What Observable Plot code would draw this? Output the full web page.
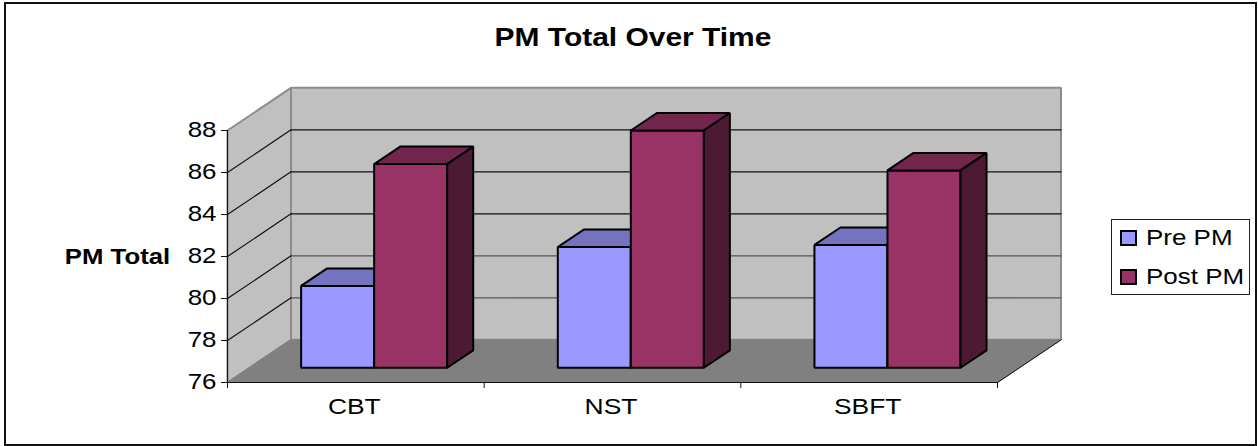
<!DOCTYPE html>
<html>
<head>
<meta charset="utf-8">
<script src="https://cdn.jsdelivr.net/npm/d3@7"></script>
<script src="https://cdn.jsdelivr.net/npm/@observablehq/plot@0.6"></script>
<style>
  html, body { margin: 0; padding: 0; background: #fff; }
  #chart { position: relative; width: 1258px; height: 446px; overflow: hidden; }
  #chart svg { display: block; background: transparent; position: relative; }
  #edge { position: absolute; left: 4px; top: 2px; width: 1249px; height: 440px; border: 2px solid #111; pointer-events: none; }
  text { font-family: "Liberation Sans", Arial, sans-serif; }
</style>
</head>
<body>
<div id="chart"><div id="edge"></div></div>
<script>
// Survey results: PM total before and after each treatment.
const treatments = ["CBT", "NST", "SBFT"];
const prePM = [79.9, 81.75, 81.85];
const postPM = [85.7, 87.3, 85.4];
const seriesNames = ["Pre PM", "Post PM"];
const yTicks = [76, 78, 80, 82, 84, 86, 88];

// Oblique projection: depth z runs 0..1 from the front plane to the back wall.
const depthX = 0.2474;  // category widths per unit of depth
const depthY = 2.03;    // PM units per unit of depth
const project = ([x, v, z]) => ({x: x + z * depthX, y: v + z * depthY});

const yMin = 76, yMax = 88, xMax = treatments.length;
const walls = [];
const bars = [];
function face(target, id, fill, stroke, strokeWidth, corners) {
  for (const c of corners) target.push({id, fill, stroke, strokeWidth, ...project(c)});
}

// Walls and floor
face(walls, "back", "#c0c0c0", "#8c8c8c", 2, [[0, yMin, 1], [xMax, yMin, 1], [xMax, yMax, 1], [0, yMax, 1]]);
face(walls, "side", "#c0c0c0", "#8c8c8c", 2, [[0, yMin, 0], [0, yMin, 1], [0, yMax, 1], [0, yMax, 0]]);
face(walls, "floor", "#808080", "#808080", 1, [[0, yMin, 0], [xMax, yMin, 0], [xMax, yMin, 1], [0, yMin, 1]]);

// Gridlines wrap from the side wall around the back wall
const grid = [];
for (const t of yTicks.slice(1, -1)) {
  const back = t === 78 || t === 80 ? "#555" : "#111";
  grid.push({id: t, stroke: back, ...project([0, t, 1])}, {id: t, stroke: back, ...project([xMax, t, 1])});
  grid.push({id: "s" + t, stroke: "#111", ...project([0, t, 0])}, {id: "s" + t, stroke: "#111", ...project([0, t, 1])});
}

// Bars stand part way into the depth of the floor
const zFront = 0.345, zBack = 0.755;
const barWidth = 0.2845, barGap = 0.2015;
const palette = [
  {front: "#9999ff", top: "#7373bf", side: "#4d4d80"},
  {front: "#993366", top: "#73264d", side: "#4d1a33"}
];
treatments.forEach((name, i) => {
  [prePM[i], postPM[i]].forEach((v, s) => {
    const x0 = i + barGap + s * barWidth, x1 = x0 + barWidth;
    const colors = palette[s], id = `${name}-${s}`;
    face(bars, id + "-front", colors.front, "#000", 2, [[x0, yMin, zFront], [x1, yMin, zFront], [x1, v, zFront], [x0, v, zFront]]);
    face(bars, id + "-top", colors.top, "#000", 2, [[x0, v, zFront], [x1, v, zFront], [x1, v, zBack], [x0, v, zBack]]);
    face(bars, id + "-side", colors.side, "#000", 2, [[x1, yMin, zFront], [x1, yMin, zBack], [x1, v, zBack], [x1, v, zFront]]);
  });
});

// Outline of the floor's open front-right corner
const floorEdge = [[xMax, yMin, 0], [xMax, yMin, 1]].map(project);

const faces = (rows) => Plot.line(rows, {
  x: "x", y: "y", z: "id",
  fill: "fill", stroke: "stroke", strokeWidth: "strokeWidth",
  curve: "linear-closed", strokeLinejoin: "miter"
});

const chart = Plot.plot({
  width: 1258,
  height: 446,
  marginLeft: 227,
  marginRight: 261,
  marginTop: 130,
  marginBottom: 64,
  style: {background: "transparent", overflow: "visible"},
  x: {domain: [0, xMax], label: null},
  y: {domain: [yMin, yMax], label: null},
  color: {type: "identity"},
  marks: [
    faces(walls),
    Plot.line(grid, {x: "x", y: "y", z: "id", stroke: "stroke", strokeWidth: 1.2}),
    faces(bars),
    Plot.line(floorEdge, {x: "x", y: "y", stroke: "#111", strokeWidth: 1}),
    Plot.ruleX([0], {stroke: "#111", strokeWidth: 1}),
    Plot.axisY({
      ticks: yTicks, tickSize: 6, tickPadding: 5, fontSize: 21.6, label: null,
      stroke: "#111", color: "#000", anchor: "left"
    }),
    Plot.axisX({
      ticks: [0, 1, 2, 3], tickSize: 6, tickFormat: () => "", label: null,
      stroke: "#111", anchor: "bottom"
    }),
    Plot.ruleY([yMin], {stroke: "#111", strokeWidth: 1}),
    Plot.text(treatments, {
      x: (d, i) => i + 0.5, y: yMin, text: (d) => d,
      dy: 24, dx: -1.5, fontSize: 22, fill: "#000"
    }),
    Plot.text(["PM Total Over Time"], {
      frameAnchor: "top", dy: -103, dx: 20.5, fontSize: 25.6, fontWeight: "bold", fill: "#000"
    }),
    Plot.text(["PM Total"], {
      frameAnchor: "left", dx: -110, dy: 0, fontSize: 22, fontWeight: "bold", fill: "#000", textAnchor: "middle"
    })
  ]
});
document.getElementById("chart").append(chart);

// The chart's lettering is set wide: widen every label by about the same factor.
chart.querySelectorAll("text").forEach((t) => {
  if (!t.textContent) return;
  const widen = t.getAttribute("font-weight") === "bold" || t.parentNode.getAttribute("font-weight") === "bold" ? 1.17 : 1.2;
  t.setAttribute("lengthAdjust", "spacingAndGlyphs");
  t.setAttribute("textLength", t.getComputedTextLength() * widen);
});

// Legend box beside the plot
const legend = document.createElement("div");
legend.style.cssText = "position:absolute;left:1111px;top:219px;width:137px;height:74px;border:1px solid #222;background:#fff;font:22px 'Liberation Sans',Arial,sans-serif;color:#000;";
seriesNames.forEach((name, i) => {
  const row = document.createElement("div");
  row.style.cssText = "display:flex;align-items:center;height:36px;margin-bottom:3px;padding-left:8px;box-sizing:border-box;white-space:nowrap;";
  const swatch = document.createElement("span");
  swatch.style.cssText = `display:inline-block;flex:none;width:13px;height:12px;border:2px solid #000;margin-right:9px;background:${palette[i].front};`;
  const label = document.createElement("span");
  label.style.cssText = "display:inline-block;transform:scaleX(1.18);transform-origin:left center;";
  label.textContent = name;
  row.append(swatch, label);
  legend.append(row);
});
document.getElementById("chart").append(legend);
</script>
</body>
</html>
